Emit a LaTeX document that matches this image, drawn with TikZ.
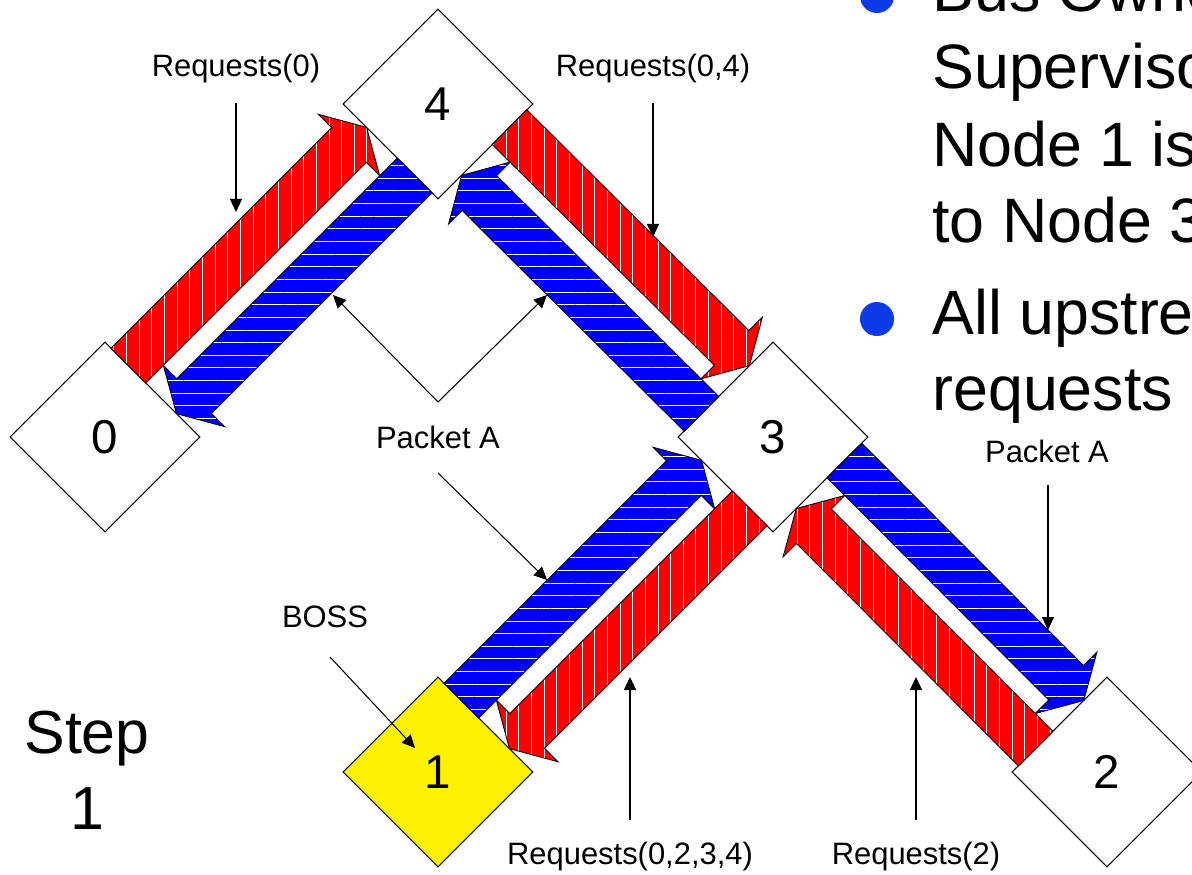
\documentclass[tikz,border=0pt]{standalone}
\usepackage{fontspec}
\setmainfont{Liberation Sans}
\usetikzlibrary{calc,patterns.meta,shapes.geometric,arrows.meta}
\definecolor{bulletblue}{RGB}{11,59,230}
% fat arrow from one box to the next, on the left of its way
\newcommand\flowarrow[3]{%
	\path (#2); \pgfgetlastxy{\arrax}{\array}
	\path (#3); \pgfgetlastxy{\arrbx}{\arrby}
	\pgfmathsetmacro\arrang{atan2(\arrby-\array,\arrbx-\arrax)}
	\pgfmathsetmacro\arrend{veclen(\arrbx-\arrax,\arrby-\array)/28.4528-1.34}
	\pgfmathsetmacro\arrbase{\arrend-0.5}
	\draw[#1, shift={(#2)}, rotate=\arrang] (1.34, 0.19) -- (1.34, 1.17) -- (\arrbase, 1.17) -- (\arrbase, 1.55) -- (\arrend, 0.68) -- (\arrbase, -0.19) -- (\arrbase, 0.19) -- cycle;
}

\begin{document}
\begin{tikzpicture}[
	box/.style={draw, shape=diamond, minimum width=3.8cm, minimum height=3.8cm, inner sep=0pt, fill=white, line width=0.6pt, font=\fontsize{27}{32}\selectfont},
	req/.style={draw=black, line width=0.5pt, preaction={fill=red}, pattern={Lines[angle=90, distance=7.2pt, line width=0.5pt]}, pattern color=white},
	pkt/.style={draw=black, line width=0.5pt, preaction={fill=blue}, pattern={Lines[angle=0, distance=7.2pt, line width=0.5pt]}, pattern color=white},
	lbl/.style={font=\fontsize{17.6}{21}\selectfont, inner sep=0pt},
	pointer/.style={line width=0.6pt, -{Triangle[length=0.26cm, width=0.24cm]}},
	bigtext/.style={font=\fontsize{35.7}{44}\selectfont, inner sep=0pt, anchor=base west},
	bulletdot/.style={circle, fill=bulletblue, minimum size=0.68cm, inner sep=0pt}
]
	%%%%% frame %%%%%
	\clip (0, 0) rectangle (23.84, 17.48);

	%%%%% boxes %%%%%
	\node[box] (n4) at (8.76, 15.40) {4};
	\node[box] (n0) at (2.10, 8.74) {0};
	\node[box] (n3) at (15.46, 8.74) {3};
	\node[box, fill=yellow] (n1) at (8.76, 2.04) {1};
	\node[box] (n2) at (22.14, 2.04) {2};

	%%%%% links %%%%%
	\flowarrow{req}{n0}{n4}
	\flowarrow{pkt}{n4}{n0}
	\flowarrow{req}{n4}{n3}
	\flowarrow{pkt}{n3}{n4}
	\flowarrow{pkt}{n1}{n3}
	\flowarrow{req}{n3}{n1}
	\flowarrow{pkt}{n3}{n2}
	\flowarrow{req}{n2}{n3}

	%%%%% labels %%%%%
	\node[lbl] (lblreq0) at (4.72, 16.10) {Requests(0)};
	\node[lbl] (lblreq04) at (13.06, 16.10) {Requests(0,4)};
	\node[lbl] (lblpkt) at (8.76, 8.74) {Packet A};
	\node[lbl] (lblpkt2) at (20.94, 8.46) {Packet A};
	\node[lbl] (lblboss) at (6.50, 5.14) {BOSS};
	\node[lbl] (lblreq31) at (12.60, 0.36) {Requests(0,2,3,4)};
	\node[lbl] (lblreq23) at (18.32, 0.36) {Requests(2)};

	\coordinate (req0top) at (4.72, 15.42);
	\coordinate (req0tip) at (4.72, 13.24);
	\coordinate (req04top) at (13.06, 15.42);
	\coordinate (req04tip) at (13.06, 12.74);
	\coordinate (pktfork) at (8.76, 9.44);
	\coordinate (pktleft) at (6.66, 11.58);
	\coordinate (pktright) at (10.94, 11.58);
	\coordinate (pktfoot) at (8.76, 8.02);
	\coordinate (pkt13) at (10.94, 5.88);
	\coordinate (pkt32top) at (20.96, 7.78);
	\coordinate (pkt32tip) at (20.96, 4.88);
	\coordinate (bossfoot) at (6.60, 4.34);
	\coordinate (bosstip) at (8.30, 2.52);
	\coordinate (req31foot) at (12.60, 1.08);
	\coordinate (req31tip) at (12.60, 3.94);
	\coordinate (req23foot) at (18.32, 1.08);
	\coordinate (req23tip) at (18.32, 3.94);

	\draw[pointer] (req0top) -- (req0tip);
	\draw[pointer] (req04top) -- (req04tip);
	\draw[pointer] (pktfork) -- (pktleft);
	\draw[pointer] (pktfork) -- (pktright);
	\draw[pointer] (pktfoot) -- (pkt13);
	\draw[pointer] (pkt32top) -- (pkt32tip);
	\draw[pointer] (bossfoot) -- (bosstip);
	\draw[pointer] (req31foot) -- (req31tip);
	\draw[pointer] (req23foot) -- (req23tip);

	%%%%% step %%%%%
	\node[align=center, inner sep=0pt, font=\fontsize{34.6}{43}\selectfont] (step) at (1.74, 2.08) {Step\\1};

	%%%%% bullets %%%%%
	\node[bulletdot] (dot1) at (17.54, 17.56) {};
	\node[bigtext] (line1) at (18.64, 17.24) {Bus Owner};
	\node[bigtext] (line2) at (18.64, 15.70) {Supervisor};
	\node[bigtext] (line3) at (18.64, 14.14) {Node 1 is};
	\node[bigtext] (line4) at (18.64, 12.62) {to Node 3};
	\node[bulletdot] (dot2) at (17.54, 11.10) {};
	\node[bigtext] (line5) at (18.64, 10.78) {All upstream};
	\node[bigtext] (line6) at (18.64, 9.28) {requests};
\end{tikzpicture}
\end{document}
